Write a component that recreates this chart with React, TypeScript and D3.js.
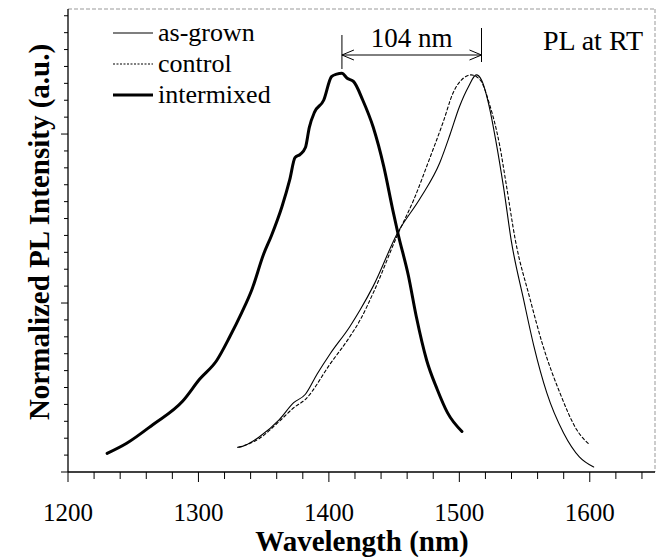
import React from 'react';
import * as d3 from 'd3';

// wavelength (nm) / normalized PL intensity (a.u.)
const asGrownNm = [1330, 1333, 1347, 1362, 1373, 1382, 1391, 1401, 1416, 1424, 1434, 1453, 1470, 1485, 1493, 1500, 1507, 1513, 1517, 1523, 1528, 1534, 1540, 1549, 1557, 1567, 1580, 1592, 1603];
const asGrownPL = [0.146, 0.15, 0.21, 0.31, 0.41, 0.46, 0.58, 0.70, 0.86, 0.96, 1.10, 1.42, 1.62, 1.83, 2.00, 2.16, 2.28, 2.35, 2.32, 2.16, 1.96, 1.68, 1.36, 1.03, 0.75, 0.47, 0.23, 0.09, 0.03];

const controlNm = [1331, 1347, 1362, 1373, 1382, 1401, 1416, 1424, 1434, 1453, 1465, 1477, 1488, 1495, 1503, 1509, 1516, 1523, 1531, 1536, 1543, 1554, 1564, 1577, 1590, 1600];
const controlPL = [0.146, 0.20, 0.30, 0.38, 0.43, 0.64, 0.80, 0.90, 1.06, 1.41, 1.61, 1.85, 2.08, 2.24, 2.33, 2.35, 2.32, 2.18, 1.93, 1.70, 1.37, 1.03, 0.75, 0.47, 0.25, 0.16];

const intermixedNm = [1230, 1245, 1265, 1288, 1301, 1314, 1324, 1333, 1341, 1350, 1356, 1364, 1370, 1374, 1378, 1382, 1385, 1389, 1396, 1402, 1406, 1410, 1414, 1419, 1426, 1434, 1442, 1449, 1453, 1461, 1467, 1475, 1483, 1491, 1502];
const intermixedPL = [0.11, 0.17, 0.28, 0.42, 0.55, 0.66, 0.80, 0.94, 1.08, 1.29, 1.40, 1.57, 1.73, 1.86, 1.88, 1.92, 2.04, 2.13, 2.20, 2.34, 2.355, 2.36, 2.33, 2.31, 2.20, 2.04, 1.81, 1.55, 1.41, 1.16, 0.92, 0.66, 0.49, 0.35, 0.24];

const seriesNames = ['as-grown', 'control', 'intermixed'];
const xTickLabels = [1200, 1300, 1400, 1500, 1600];
const shiftEnds = [1410, 1517]; // peak-to-peak marker
const shiftLabel = '104 nm';

const width = 659;
const height = 557;
const font = "'Liberation Serif', Tinos, serif";

const App = () => {
  const x = d3.scaleLinear().domain([1200, 1650]).range([68, 655]);
  const y = d3.scaleLinear().domain([0, 2.74]).range([472, 9]);

  const line = d3.line<[number, number]>()
    .x(d => x(d[0]))
    .y(d => y(d[1]))
    .curve(d3.curveMonotoneX);

  const zip = (a: number[], b: number[]) => a.map((v, i) => [v, b[i]] as [number, number]);

  const series = [
    { name: seriesNames[0], pts: zip(asGrownNm, asGrownPL), w: 1.1, dash: undefined },
    { name: seriesNames[1], pts: zip(controlNm, controlPL), w: 1.1, dash: '3,2.5' },
    { name: seriesNames[2], pts: zip(intermixedNm, intermixedPL), w: 3, dash: undefined },
  ];

  const [x0, x1] = x.range();
  const [yb, yt] = y.range();
  const xTicks = x.ticks(25);
  const yTicks = y.ticks(30);

  const a1 = x(shiftEnds[0]);
  const a2 = x(shiftEnds[1]);
  const ay = 55;

  return (
    <svg width={width} height={height} style={{ position: 'absolute', left: 0, top: 0, background: '#fff', fontFamily: font }}>
      {/* frame top / right, faint */}
      <line x1={x0} x2={x1} y1={yt} y2={yt} stroke="#999" strokeWidth={1} strokeDasharray="4,2" />
      <line x1={x1} x2={x1} y1={yt} y2={yb} stroke="#999" strokeWidth={1} strokeDasharray="4,2" />

      {/* axes */}
      <line x1={x0} x2={x0} y1={yt} y2={yb} stroke="#000" strokeWidth={1.3} />
      <line x1={x0} x2={x1} y1={yb} y2={yb} stroke="#000" strokeWidth={1.3} />

      {xTicks.map(t => {
        const major = t % 100 === 0;
        return <line key={'xt' + t} x1={x(t)} x2={x(t)} y1={yb} y2={yb + (major ? 10 : 7)} stroke="#000" strokeWidth={1} />;
      })}
      {xTickLabels.map(t => (
        <text key={'xl' + t} x={x(t)} y={521} textAnchor="middle" fontSize={25}>{t}</text>
      ))}

      {yTicks.map(t => {
        const major = Math.abs(t - Math.round(t)) < 1e-6;
        return <line key={'yt' + t} x1={x0} x2={x0 - (major ? 7 : 4)} y1={y(t)} y2={y(t)} stroke="#000" strokeWidth={1} />;
      })}

      <text x={362} y={551} textAnchor="middle" fontSize={29} fontWeight="bold">Wavelength (nm)</text>
      <text transform="translate(49,232) rotate(-90)" textAnchor="middle" fontSize={29} fontWeight="bold">
        Normalized PL Intensity (a.u.)
      </text>

      {/* curves */}
      {series.map(s => (
        <path key={s.name} d={line(s.pts) || ''} fill="none" stroke="#000" strokeWidth={s.w}
          strokeDasharray={s.dash} strokeLinejoin="round" strokeLinecap="round" />
      ))}

      {/* legend */}
      {series.map((s, i) => {
        const ly = 33 + i * 31;
        return (
          <g key={'lg' + s.name}>
            <line x1={113} x2={153} y1={ly} y2={ly} stroke="#000" strokeWidth={s.w} strokeDasharray={s.dash ? '2,1.5' : undefined} />
            <text x={158} y={ly + 8} fontSize={26}>{s.name}</text>
          </g>
        );
      })}

      {/* 104 nm marker */}
      <line x1={a1} x2={a1} y1={35} y2={69} stroke="#000" strokeWidth={1} />
      <line x1={a2} x2={a2} y1={28} y2={62} stroke="#000" strokeWidth={1} />
      <line x1={a1} x2={a2} y1={ay} y2={ay} stroke="#000" strokeWidth={1} />
      <polyline points={`${a1 + 12},${ay - 5} ${a1},${ay} ${a1 + 12},${ay + 5}`} fill="none" stroke="#000" strokeWidth={1} />
      <polyline points={`${a2 - 12},${ay - 5} ${a2},${ay} ${a2 - 12},${ay + 5}`} fill="none" stroke="#000" strokeWidth={1} />
      <text x={(a1 + a2) / 2} y={47} textAnchor="middle" fontSize={27}>{shiftLabel}</text>

      <text x={643} y={50} textAnchor="end" fontSize={28}>PL at RT</text>
    </svg>
  );
};

export default App;
